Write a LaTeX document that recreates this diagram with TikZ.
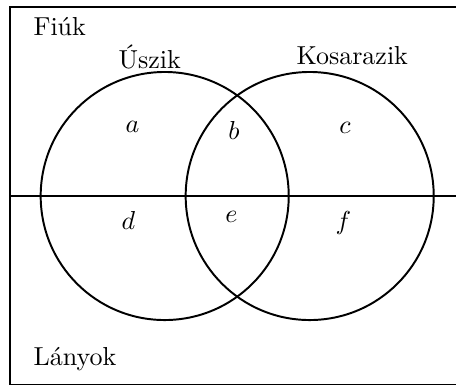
\documentclass[tikz,border=0pt]{standalone}
\begin{document}
\begin{tikzpicture}[x=0.3846pt,y=-0.3846pt,
  edge/.style={line width=0.75pt, black},
  setcircle/.style={circle, draw, line width=0.75pt, inner sep=0pt, minimum size=95.4pt},
  lbl/.style={anchor=base west, inner sep=0pt},
  region/.style={anchor=base, inner sep=0pt}]
\useasboundingbox (0,0) rectangle (456,385);
\clip (0,0) rectangle (456,385);
% frame
\draw[edge] (10,7) rectangle (470,384.5);
% horizontal divider
\coordinate (hl) at (10,196);
\coordinate (hr) at (470,196);
\draw[edge] (hl) -- (hr);
% circles
\node[setcircle] (swim) at (164.7,196) {};
\node[setcircle] (bask) at (309.7,196) {};
% labels
\node[lbl] (boys) at (33,35) {Fiúk};
\node[lbl] (girls) at (33,365) {Lányok};
\node[lbl] (swimlbl) at (118,68) {Úszik};
\node[lbl] (basklbl) at (296,64) {Kosarazik};
% regions
\node[region] (ra) at (132.5,132) {$a$};
\node[region] (rb) at (234,139) {$b$};
\node[region] (rc) at (345,133) {$c$};
\node[region] (rd) at (128.5,229) {$d$};
\node[region] (re) at (231.5,222) {$e$};
\node[region] (rf) at (343.5,229) {$f$};
\end{tikzpicture}
\end{document}
